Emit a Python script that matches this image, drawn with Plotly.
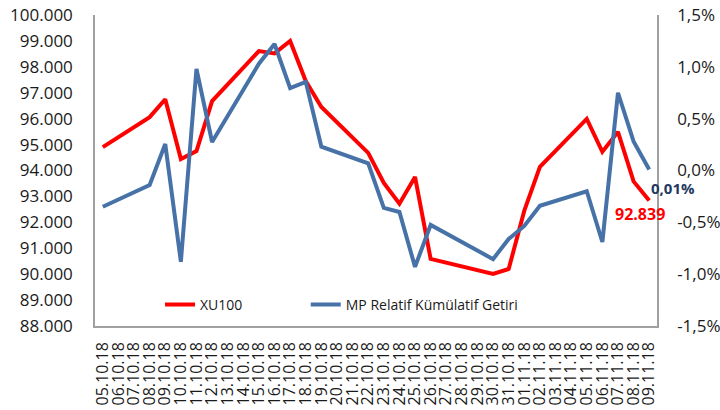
import plotly.graph_objects as go

# All calendar days shown on the category axis
all_days = [
    "05.10.18", "06.10.18", "07.10.18", "08.10.18", "09.10.18", "10.10.18",
    "11.10.18", "12.10.18", "13.10.18", "14.10.18", "15.10.18", "16.10.18",
    "17.10.18", "18.10.18", "19.10.18", "20.10.18", "21.10.18", "22.10.18",
    "23.10.18", "24.10.18", "25.10.18", "26.10.18", "27.10.18", "28.10.18",
    "29.10.18", "30.10.18", "31.10.18", "01.11.18", "02.11.18", "03.11.18",
    "04.11.18", "05.11.18", "06.11.18", "07.11.18", "08.11.18", "09.11.18",
]

# Trading days with data
dates = [
    "05.10.18", "08.10.18", "09.10.18", "10.10.18", "11.10.18", "12.10.18",
    "15.10.18", "16.10.18", "17.10.18", "18.10.18", "19.10.18",
    "22.10.18", "23.10.18", "24.10.18", "25.10.18", "26.10.18",
    "30.10.18", "31.10.18", "01.11.18", "02.11.18",
    "05.11.18", "06.11.18", "07.11.18", "08.11.18", "09.11.18",
]

xu100 = [
    94900, 96060, 96750, 94440, 94750, 96680,
    98610, 98520, 99000, 97450, 96450,
    94680, 93520, 92720, 93750, 90590,
    90010, 90200, 92450, 94140,
    95990, 94720, 95490, 93580, 92839,
]

mp_rel = [  # percent
    -0.35, -0.14, 0.255, -0.88, 0.98, 0.275,
    1.03, 1.22, 0.795, 0.855, 0.23,
    0.07, -0.36, -0.40, -0.93, -0.525,
    -0.855, -0.66, -0.535, -0.34,
    -0.20, -0.69, 0.75, 0.28, 0.01,
]

left_ticks = list(range(88000, 100001, 1000))
right_tickvals = [-1.5, -1.0, -0.5, 0.0, 0.5, 1.0, 1.5]
right_ticktext = ["-1,5%", "-1,0%", "-0,5%", "0,0%", "0,5%", "1,0%", "1,5%"]

RED = "#FF0000"
BLUE = "#4672A8"
AXIS = "#A0A0A0"
TXT = "#1a1a1a"
FONT = "Open Sans"

fig = go.Figure()
fig.add_trace(go.Scatter(
    x=dates, y=xu100, name="XU100", mode="lines",
    line=dict(color=RED, width=4), yaxis="y", legend="legend",
))
fig.add_trace(go.Scatter(
    x=dates, y=mp_rel, name="MP Relatif Kümülatif Getiri", mode="lines",
    line=dict(color=BLUE, width=4), yaxis="y2", legend="legend2",
))

fig.add_annotation(
    x=dates[-1], y=mp_rel[-1], yref="y2",
    text="<b>" + f"{mp_rel[-1]:.2f}".replace(".", ",") + "%</b>",
    showarrow=False, xshift=24, yshift=-19,
    font=dict(family=FONT, size=15, color="#1F3A60"),
)
fig.add_annotation(
    x=dates[-1], y=xu100[-1], yref="y",
    text="<b>" + f"{xu100[-1]:,}".replace(",", ".") + "</b>",
    showarrow=False, xshift=-9, yshift=-13,
    font=dict(family=FONT, size=16, color=RED),
)

legend_common = dict(
    orientation="h", yanchor="middle", xanchor="left", y=0.068,
    font=dict(family=FONT, size=14, color=TXT),
    bgcolor="rgba(0,0,0,0)",
)

fig.update_layout(
    width=720, height=410,
    margin=dict(l=95, r=63, t=15, b=84),
    paper_bgcolor="white", plot_bgcolor="white",
    separators=",.",
    font=dict(family=FONT, color=TXT),
    showlegend=True,
    legend=dict(x=0.1157, **legend_common),
    legend2=dict(x=0.375, **legend_common),
    xaxis=dict(
        type="category", categoryorder="array", categoryarray=all_days,
        tickvals=all_days, ticktext=all_days, tickangle=-90,
        range=[-0.5, len(all_days) - 0.5], automargin=False,
        showline=True, linecolor=AXIS, linewidth=1.5,
        showgrid=False, ticks="", zeroline=False, ticklabelstandoff=8,
        tickfont=dict(family=FONT, size=16, color=TXT),
    ),
    yaxis=dict(
        range=[88000, 100000], tickvals=left_ticks, tickformat=",d",
        automargin=False, ticklabelstandoff=17,
        showline=True, linecolor=AXIS, linewidth=1.5,
        showgrid=False, ticks="", zeroline=False,
        tickfont=dict(family=FONT, size=17, color=TXT),
    ),
    yaxis2=dict(
        range=[-1.5, 1.5], overlaying="y", side="right",
        tickvals=right_tickvals, ticktext=right_ticktext,
        automargin=False, ticklabelstandoff=15,
        showline=True, linecolor=AXIS, linewidth=1.5,
        showgrid=False, ticks="", zeroline=False,
        tickfont=dict(family=FONT, size=17, color=TXT),
    ),
)

fig.write_html(
    "out.html",
    config={"displayModeBar": False},
    post_script="document.body.style.margin='0';document.body.style.overflow='hidden';",
)
